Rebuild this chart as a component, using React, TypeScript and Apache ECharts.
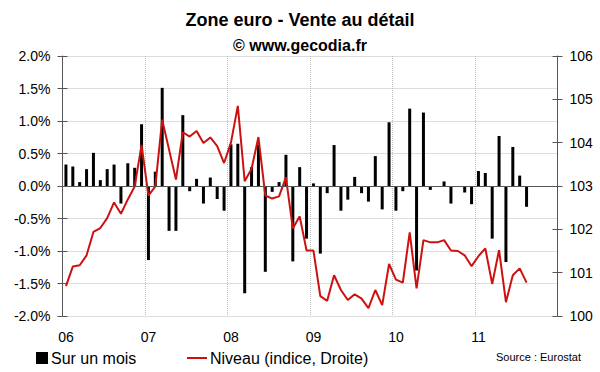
import React, { useEffect, useRef } from "react";
import * as echarts from "echarts";

const years = ["06", "07", "08", "09", "10", "11"];
const monthsPerYear = 12;

// Monthly change (%), Jan 2006 - Aug 2011
const monthly = [
  0.33, 0.30, 0.06, 0.26, 0.51, 0.09, 0.26, 0.33, -0.27, 0.35, 0.28, 0.95,
  -1.14, 0.22, 1.51, -0.69, -0.69, 1.09, -0.08, 0.11, -0.27, 0.13, -0.20, -0.38,
  0.64, 0.65, -1.65, 0.29, 0.64, -1.32, -0.09, 0.06, 0.48, -1.16, 0.29, -0.81,
  0.04, -1.04, -0.11, 0.63, -0.38, -0.21, 0.14, -0.11, -0.24, 0.46, -0.36, 0.98,
  -0.38, -0.08, 1.19, -1.30, 1.13, -0.06, -0.01, 0.07, -0.27, 0.0, -0.10, -0.28,
  0.23, 0.20, -0.81, 0.77, -1.17, 0.60, 0.16, -0.32,
];

// Index level (right axis)
const level = [
  100.69, 101.14, 101.17, 101.40, 101.94, 102.03, 102.26, 102.62, 102.36, 102.69, 102.99, 103.95,
  102.78, 102.99, 104.53, 103.84, 103.15, 104.24, 104.14, 104.27, 103.99, 104.12, 103.92, 103.53,
  104.0, 104.85, 103.11, 103.40, 104.13, 102.78, 102.71, 102.76, 103.20, 102.02, 102.30, 101.51,
  101.51, 100.46, 100.35, 100.94, 100.60, 100.37, 100.50, 100.40, 100.18, 100.60, 100.25, 101.20,
  100.84, 100.77, 101.93, 100.64, 101.75, 101.70, 101.70, 101.75, 101.51, 101.50, 101.40, 101.15,
  101.38, 101.56, 100.74, 101.52, 100.32, 100.94, 101.10, 100.77,
];

const categories: string[] = [];
years.forEach((y) => {
  for (let m = 1; m <= monthsPerYear; m++) categories.push(y + "-" + (m < 10 ? "0" + m : "" + m));
});

const FONT = "Liberation Sans, Arial, sans-serif";

export default function App() {
  const ref = useRef<HTMLDivElement>(null);
  useEffect(() => {
    if (!ref.current) return;
    document.body.style.margin = "0";
    const chart = echarts.init(ref.current, null, { renderer: "svg" });
    const axisColor = "#555";
    chart.setOption({
      animation: false,
      backgroundColor: "#fff",
      textStyle: { fontFamily: FONT },
      title: [
        {
          text: "Zone euro - Vente au détail",
          left: "center",
          top: 6,
          textStyle: { fontFamily: FONT, fontSize: 18, fontWeight: "bold", color: "#000" },
        },
        {
          text: "© www.gecodia.fr",
          left: "center",
          top: 32,
          textStyle: { fontFamily: FONT, fontSize: 16, fontWeight: "bold", color: "#000" },
        },
      ],
      legend: [
        {
          data: [{ name: "Sur un mois", icon: "rect" }],
          left: 31,
          top: 345,
          itemWidth: 12,
          itemHeight: 12,
          itemGap: 5,
          textStyle: { fontFamily: FONT, fontSize: 16, color: "#000", padding: [0, 0, 0, -2] },
        },
        {
          data: [{ name: "Niveau (indice, Droite)", icon: "rect" }],
          left: 182,
          top: 345,
          itemWidth: 20,
          itemHeight: 2,
          textStyle: { fontFamily: FONT, fontSize: 16, color: "#000", padding: [0, 0, 0, -2] },
        },
      ],
      graphic: [
        {
          type: "text",
          left: 496,
          top: 351,
          style: { text: "Source : Eurostat", fontFamily: FONT, fontSize: 11, fill: "#000" },
        },
      ],
      grid: { left: 62.5, right: 42.5, top: 56, bottom: 56 },
      xAxis: {
        type: "category",
        data: categories,
        boundaryGap: true,
        axisLine: { show: false },
        axisTick: { show: false },
        axisLabel: {
          interval: (i: number) => i % monthsPerYear === 0,
          formatter: (v: string) => v.slice(0, 2),
          fontFamily: FONT,
          fontSize: 14,
          color: "#000",
          margin: 14,
        },
        splitLine: {
          show: true,
          interval: (i: number) => i % monthsPerYear === 0,
          lineStyle: { color: "#bbb", type: "dotted" },
        },
      },
      yAxis: [
        {
          type: "value",
          position: "left",
          min: -2,
          max: 2,
          interval: 0.5,
          axisLine: { show: true, lineStyle: { color: axisColor } },
          axisTick: { show: true, length: 5, lineStyle: { color: axisColor } },
          axisLabel: {
            formatter: (v: number) => v.toFixed(1) + "%",
            fontFamily: FONT,
            fontSize: 14,
            color: "#000",
            margin: 12,
          },
          splitLine: { show: true, lineStyle: { color: "#bbb", type: "dotted" } },
        },
        {
          type: "value",
          position: "right",
          min: 100,
          max: 106,
          interval: 1,
          axisLine: { show: true, lineStyle: { color: axisColor } },
          axisTick: { show: true, length: 5, lineStyle: { color: axisColor } },
          axisLabel: {
            fontFamily: FONT,
            fontSize: 14,
            color: "#000",
            margin: 12,
          },
          splitLine: { show: false },
        },
        {
          type: "value",
          position: "left",
          min: -2,
          max: 2,
          interval: 0.5,
          axisLine: { show: false },
          axisTick: { show: true, inside: true, length: 5, lineStyle: { color: axisColor } },
          axisLabel: { show: false },
          splitLine: { show: false },
        },
        {
          type: "value",
          position: "right",
          min: 100,
          max: 106,
          interval: 1,
          axisLine: { show: false },
          axisTick: { show: true, inside: true, length: 5, lineStyle: { color: axisColor } },
          axisLabel: { show: false },
          splitLine: { show: false },
        },
      ],
      series: [
        {
          name: "Sur un mois",
          type: "bar",
          yAxisIndex: 0,
          data: monthly,
          barWidth: 3,
          itemStyle: { color: "#000" },
          markLine: {
            silent: true,
            symbol: "none",
            label: { show: false },
            lineStyle: { color: axisColor, type: "solid", width: 1 },
            data: [{ yAxis: 0 }],
          },
        },
        {
          name: "Niveau (indice, Droite)",
          type: "line",
          yAxisIndex: 1,
          data: level,
          symbol: "none",
          lineStyle: { color: "#cc1111", width: 2 },
          itemStyle: { color: "#cc1111" },
        },
      ],
    });
    return () => chart.dispose();
  }, []);
  return <div ref={ref} style={{ width: 600, height: 372 }} />;
}
